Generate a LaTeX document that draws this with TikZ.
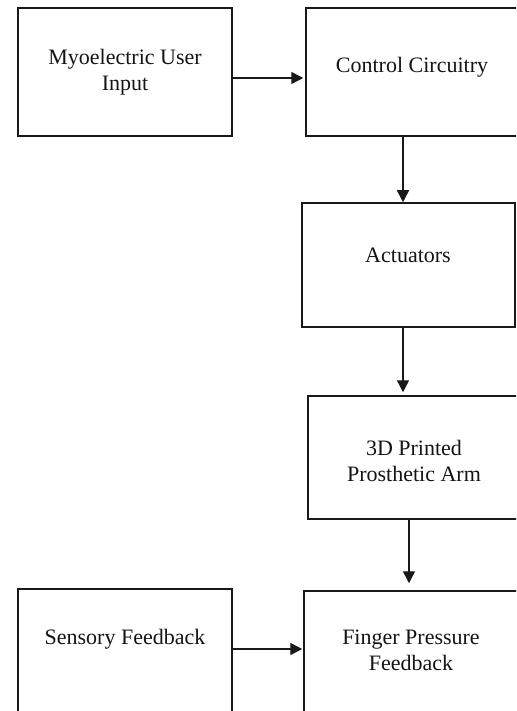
\documentclass[tikz,border=0pt]{standalone}
\usepackage{fontspec}
\setmainfont{Liberation Serif}
\usetikzlibrary{positioning, arrows.meta}
\begin{document}
\begin{tikzpicture}[x=1pt, y=-1pt]
  \tikzstyle{block} = [rectangle, draw=black!90, line width=1.5pt, inner sep=0pt]
  \tikzstyle{blocktext} = [inner sep=0pt, anchor=north, align=center, text=black!92,
    font=\fontsize{22}{26}\selectfont]
  \tikzstyle{flow} = [-{Triangle[length=12pt, width=12pt]}, draw=black!90, line width=1.4pt]

  \useasboundingbox (0,0) rectangle (516,711);
  \clip (0,0) rectangle (516,711);

  \node[block, minimum width=214pt, minimum height=128pt] (myo) at (125,72) {};
  \node[block, minimum width=212pt, minimum height=128pt] (ctrl) at (412,72) {};
  \node[block, minimum width=213pt, minimum height=124pt] (act) at (408.5,265) {};
  \node[block, minimum width=212pt, minimum height=123pt] (arm) at (414,457.5) {};
  \node[block, minimum width=214pt, minimum height=124pt] (finger) at (411,653) {};
  \node[block, minimum width=214pt, minimum height=124pt] (sensory) at (125,651) {};

  \node[blocktext] (myotxt) at (125,49) {Myoelectric User\\Input};
  \node[blocktext] (ctrltxt) at (412,57) {Control Circuitry};
  \node[blocktext] (acttxt) at (408,248) {Actuators};
  \node[blocktext] (armtxt) at (414,440) {3D Printed\\Prosthetic Arm};
  \node[blocktext] (fingertxt) at (411,630) {Finger Pressure\\Feedback};
  \node[blocktext] (sensorytxt) at (125,629) {Sensory Feedback};

  \draw[flow, shorten >=2pt] ([yshift=-6pt]myo.east) -- ([yshift=-6pt]ctrl.west);
  \draw[flow] ([xshift=-9pt]ctrl.south) -- ([xshift=-5.5pt]act.north);
  \draw[flow, shorten >=3pt] ([xshift=-5.5pt]act.south) -- ([xshift=-11pt]arm.north);
  \draw[flow, shorten >=7pt] ([xshift=-5pt]arm.south) -- ([xshift=-2pt]finger.north);
  \draw[flow, shorten >=1pt] ([yshift=2pt]sensory.east) -- ([yshift=4pt]finger.west);
\end{tikzpicture}
\end{document}
